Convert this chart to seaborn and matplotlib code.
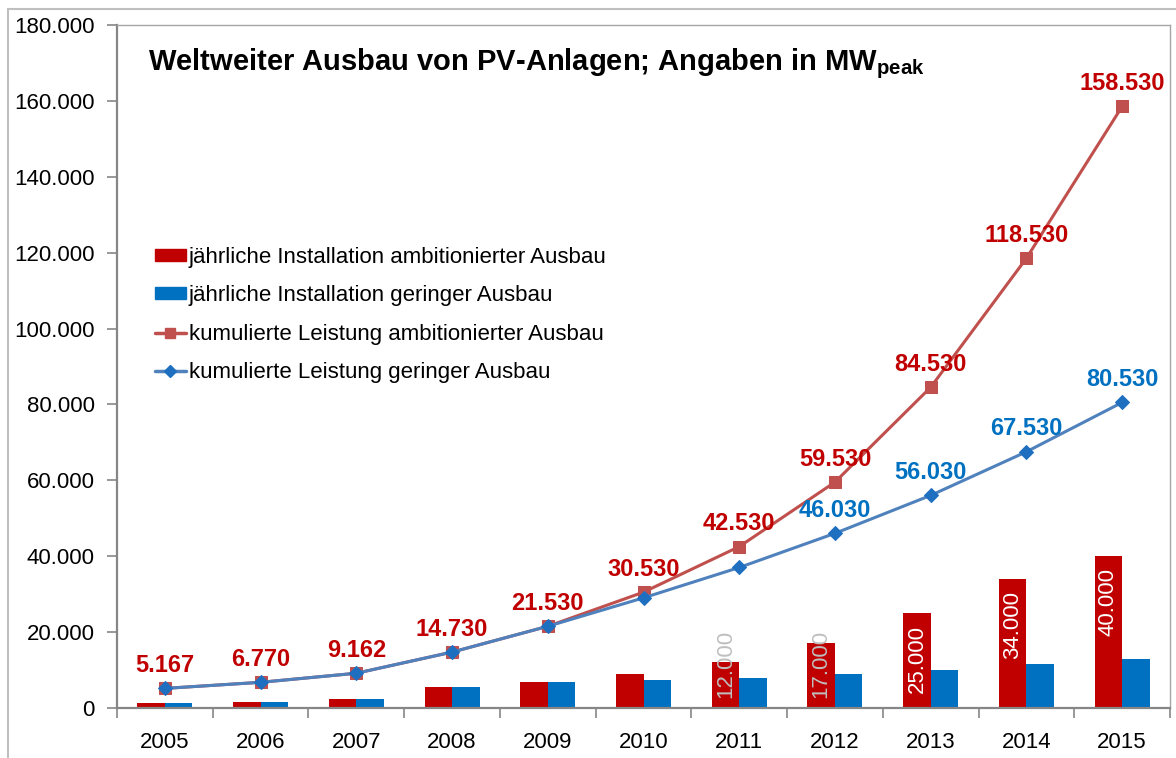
import numpy as np
import pandas as pd
import matplotlib
matplotlib.use("Agg")
import matplotlib.pyplot as plt
import seaborn as sns
from matplotlib.patches import Patch, Rectangle
from matplotlib.lines import Line2D

# Data (MW peak)
years = ["2005", "2006", "2007", "2008", "2009", "2010",
         "2011", "2012", "2013", "2014", "2015"]
annual_high = [1400, 1603, 2392, 5568, 6800, 9000, 12000, 17000, 25000, 34000, 40000]
annual_low = [1400, 1603, 2392, 5568, 6800, 7500, 8000, 9000, 10000, 11500, 13000]
cum_high = [5167, 6770, 9162, 14730, 21530, 30530, 42530, 59530, 84530, 118530, 158530]
cum_low = [5167, 6770, 9162, 14730, 21530, 29030, 37030, 46030, 56030, 67530, 80530]
bar_label_years = ["2011", "2012", "2013", "2014", "2015"]
low_label_years = ["2012", "2013", "2014", "2015"]

lbl_bar_high = "jährliche Installation ambitionierter Ausbau"
lbl_bar_low = "jährliche Installation geringer Ausbau"
lbl_cum_high = "kumulierte Leistung ambitionierter Ausbau"
lbl_cum_low = "kumulierte Leistung geringer Ausbau"

RED_BAR = "#C00000"
BLUE_BAR = "#0070C0"
RED_LINE = "#C0504D"
BLUE_LINE = "#4F81BD"


def de_fmt(v):
    return f"{v:,.0f}".replace(",", ".")


sns.set_style("white")
plt.rcParams["font.family"] = ["Liberation Sans", "DejaVu Sans"]
plt.rcParams["mathtext.fontset"] = "custom"
plt.rcParams["mathtext.rm"] = "Liberation Sans"
plt.rcParams["mathtext.bf"] = "Liberation Sans:bold"
for k in ["text.color", "xtick.color", "ytick.color", "axes.labelcolor"]:
    plt.rcParams[k] = "black"

bars = pd.DataFrame({
    "Jahr": years * 2,
    "MW": annual_high + annual_low,
    "Szenario": [lbl_bar_high] * len(years) + [lbl_bar_low] * len(years),
})

fig = plt.figure(figsize=(11.76, 7.58), dpi=100)
ax = fig.add_axes([117 / 1176, 50 / 758, (1170 - 117) / 1176, (708 - 25) / 758])

sns.barplot(data=bars, x="Jahr", y="MW", hue="Szenario",
            palette=[RED_BAR, BLUE_BAR], width=0.575, gap=0,
            saturation=1, legend=False, linewidth=0, ax=ax, zorder=2)

idx = np.arange(len(years))
sns.lineplot(x=idx, y=cum_high, color=RED_LINE, lw=2.2, marker="s",
             markersize=8, markeredgecolor=RED_LINE, ax=ax, zorder=3)
sns.lineplot(x=idx, y=cum_low, color=BLUE_LINE, lw=2.2, marker="D",
             markersize=7, markerfacecolor="#1F6FC0", markeredgecolor="#1F6FC0",
             ax=ax, zorder=4)

# labels on cumulative lines
for i, v in enumerate(cum_high):
    ax.annotate(de_fmt(v), (i, v), xytext=(0, 16.5), textcoords="offset points",
                ha="center", va="center", fontsize=17, fontweight="bold",
                color=RED_BAR, zorder=5)
for i, y in enumerate(years):
    if y in low_label_years:
        ax.annotate(de_fmt(cum_low[i]), (i, cum_low[i]), xytext=(0, 16.5),
                    textcoords="offset points", ha="center", va="center",
                    fontsize=17, fontweight="bold", color=BLUE_BAR, zorder=5)

# labels inside red bars
for i, y in enumerate(years):
    if y not in bar_label_years:
        continue
    v = annual_high[i]
    xb = i - 0.575 / 4
    if v > 20000:
        ax.text(xb, v - 3100, de_fmt(v), rotation=90, ha="center", va="top",
                fontsize=16, color="white", zorder=5)
    else:
        ax.text(xb, 2600, de_fmt(v), rotation=90, ha="center", va="bottom",
                fontsize=16, color="#BFBFBF", zorder=5)

ax.set_xlim(-0.5, len(years) - 0.5)
ax.set_ylim(0, 180000)
ax.set_yticks(np.arange(0, 180001, 20000))
ax.set_yticklabels([de_fmt(t) for t in np.arange(0, 180001, 20000)])
ax.set_xticks(idx, years)
ax.set_xticks(np.arange(-0.5, len(years), 1), minor=True)
ax.set_xlabel("")
ax.set_ylabel("")
ax.tick_params(axis="y", which="major", direction="out", length=7, width=1.2,
               color="#868686", labelsize=16, pad=9, left=True)
ax.tick_params(axis="x", which="major", length=0, labelsize=16, pad=17)
ax.tick_params(axis="x", which="minor", direction="out", length=7, width=1.2,
               color="#868686", bottom=True)
for s in ["left", "bottom"]:
    ax.spines[s].set_color("#868686")
    ax.spines[s].set_linewidth(1.6)
for s in ["top", "right"]:
    ax.spines[s].set_color("#A6A6A6")
    ax.spines[s].set_linewidth(1.0)

handles = [
    Patch(color=RED_BAR, label=lbl_bar_high),
    Patch(color=BLUE_BAR, label=lbl_bar_low),
    Line2D([], [], color=RED_LINE, lw=2.5, marker="s", ms=7, label=lbl_cum_high),
    Line2D([], [], color=BLUE_LINE, lw=2.5, marker="D", ms=6,
           markerfacecolor="#1F6FC0", markeredgecolor="#1F6FC0", label=lbl_cum_low),
]
ax.legend(handles=handles, loc="upper left", bbox_to_anchor=(0.036, 0.675),
          frameon=False, fontsize=16, handlelength=1.4, handleheight=0.45,
          handletextpad=0.12, labelspacing=0.78, borderaxespad=0, borderpad=0)

fig.text(148 / 1176, 1 - 70 / 758,
         r"Weltweiter Ausbau von PV-Anlagen; Angaben in MW$_{\mathbf{peak}}$",
         fontsize=21, fontweight="bold", ha="left", va="baseline")

# outer chart frame
fig.add_artist(Rectangle((8 / 1176, -0.1), 1.2, 1 - 9 / 758 + 0.1,
                         transform=fig.transFigure, fill=False,
                         ec="#BFBFBF", lw=1.5, clip_on=False))

fig.savefig("out.png", dpi=100)
